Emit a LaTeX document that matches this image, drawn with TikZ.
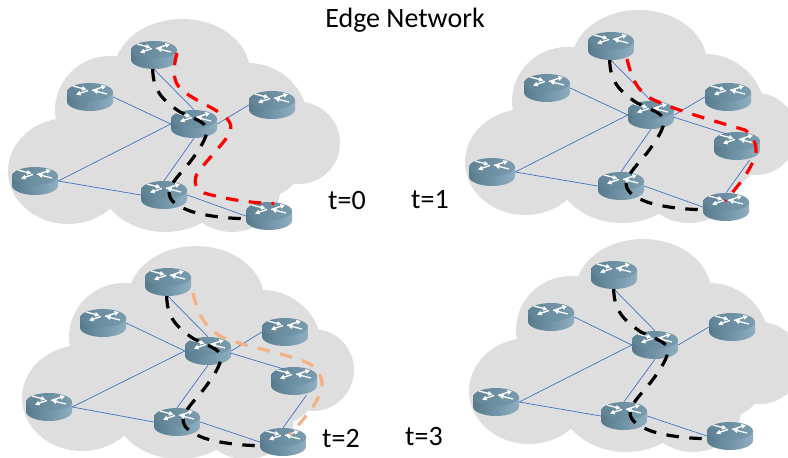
\documentclass[tikz,border=0pt]{standalone}
\usepackage{fontspec}
\setmainfont{Carlito}
\usetikzlibrary{arrows.meta,calc}
\definecolor{cloudgray}{HTML}{DEDEDE}
\definecolor{linkblue}{HTML}{4472C4}
\definecolor{pathred}{HTML}{FF0000}
\definecolor{pathorange}{HTML}{F4B183}
\definecolor{RL}{HTML}{567A8C}
\definecolor{RR}{HTML}{8FAEC2}
\definecolor{TL}{HTML}{5F8395}
\definecolor{TR}{HTML}{7A9CAF}
\tikzset{
  x=1pt,y=-1pt,
  cloudfill/.style={fill=cloudgray,draw=none},
  rnode/.style={inner sep=0pt,minimum width=46pt,minimum height=28pt,rectangle},
  link/.style={draw=linkblue,line width=0.7pt},
  flow/.style={line width=3.2pt,dash pattern=on 12.5pt off 10.5pt},
  lbl/.style={font=\fontsize{28}{32}\selectfont,text=black,inner sep=0pt},
  rarrow/.style={draw=white,line width=1.3pt,-{Triangle[length=4.5pt,width=4.5pt]}},
  router/.pic={
    \shade[left color=RL,right color=RR,draw=none]
      (-23,-5) -- (-23,4.5) .. controls (-23,9.75) and (-12.7,14) .. (0,14)
      .. controls (12.7,14) and (23,9.75) .. (23,4.5) -- (23,-5) -- cycle;
    \shade[left color=TL,right color=TR,draw=none]
      (0,-5) ellipse[x radius=23,y radius=9];
    \draw[rarrow] (-17,-11) -- (-3.5,-7.5);
    \draw[rarrow] (2,-6.5) -- (16,-11);
    \draw[rarrow] (-2,-6.5) -- (-14,-2.5);
    \draw[rarrow] (17,-3) -- (3,-6.5);
  }
}
\newcommand{\cloudat}[2]{
  \begin{scope}[shift={(#1,#2)}]
    \fill[cloudfill] (182,72) ellipse[x radius=68,y radius=53];
    \fill[cloudfill] (110,110) ellipse[x radius=55,y radius=54];
    \fill[cloudfill] (68,171) ellipse[x radius=60,y radius=53];
    \fill[cloudfill] (248,122) ellipse[x radius=60,y radius=59];
    \fill[cloudfill] (299,143) circle[radius=41];
    \fill[cloudfill] (165,175) ellipse[x radius=68,y radius=57];
    \fill[cloudfill] (232,190) ellipse[x radius=48,y radius=42];
    \fill[cloudfill] (252,168) ellipse[x radius=48,y radius=32];
    \fill[cloudfill] (170,130) ellipse[x radius=100,y radius=60];
  \end{scope}
}
\newcommand{\blackroute}[2]{
  \draw[black,flow,shift={(#1,#2)}]
    (152.7,69) .. controls (153,90) and (162,100) .. (180,112)
    .. controls (195,119) and (206,122) .. (207,130)
    .. controls (207,138) and (199,150) .. (190,162)
    .. controls (180,174) and (170,184) .. (169,192)
    .. controls (169,201) and (177,206) .. (190,211)
    .. controls (205,216) and (230,219) .. (249,218.5);
}
\begin{document}
\begin{tikzpicture}
\useasboundingbox (0,0) rectangle (788,458);
\begin{scope}
\clip (0,0) rectangle (788,458);
\cloudat{0}{0}
\cloudat{457}{-9}
\cloudat{14}{227}
\cloudat{461}{220}
\end{scope}

\node[lbl] (title) at (405,20) {Edge Network};
\node[lbl] (t0) at (347,201) {t=0};
\node[lbl] (t1) at (430,200) {t=1};
\node[lbl] (t2) at (341,439) {t=2};
\node[lbl] (t3) at (424,437) {t=3};

% panel 0
\node[rnode] (a1) at (154,55) {};
\node[rnode] (a2) at (90,97) {};
\node[rnode] (a3) at (194,124) {};
\node[rnode] (a4) at (272,105) {};
\node[rnode] (a5) at (35,181) {};
\node[rnode] (a6) at (164,195) {};
\node[rnode] (a7) at (269,216) {};
% panel 1
\node[rnode] (b1) at (611,46) {};
\node[rnode] (b2) at (547,88) {};
\node[rnode] (b3) at (651,115) {};
\node[rnode] (b4) at (728,97) {};
\node[rnode] (b5) at (492,172) {};
\node[rnode] (b6) at (621,186) {};
\node[rnode] (b7) at (726,207) {};
\node[rnode] (b8) at (737,146) {};
% panel 2
\node[rnode] (c1) at (168,282) {};
\node[rnode] (c2) at (103,323) {};
\node[rnode] (c3) at (208,351) {};
\node[rnode] (c4) at (285,332) {};
\node[rnode] (c5) at (49,407) {};
\node[rnode] (c6) at (177,422) {};
\node[rnode] (c7) at (283,442) {};
\node[rnode] (c8) at (294,381) {};
% panel 3
\node[rnode] (d1) at (614,275) {};
\node[rnode] (d2) at (551,317) {};
\node[rnode] (d3) at (655,345) {};
\node[rnode] (d4) at (732,327) {};
\node[rnode] (d5) at (496,402) {};
\node[rnode] (d6) at (624,416) {};
\node[rnode] (d7) at (730,436) {};

\foreach \p in {a,b,c,d}{
  \draw[link] (\p1.south) -- (\p3.north);
  \draw[link] (\p2.east) -- (\p3.west);
  \draw[link] (\p4.west) -- (\p3.east);
  \draw[link] (\p5.east) -- (\p3.west);
  \draw[link] (\p5.east) -- (\p6.west);
  \draw[link] (\p3.south) -- (\p6.north);
  \draw[link] (\p6.east) -- (\p7.west);
}
\foreach \p in {b,c}{
  \draw[link] ($(\p8.south)+(12.5,0)$) -- (\p7.north);
}
\foreach \p in {a,b,c,d}{
  \foreach \i in {1,...,7}{ \pic at (\p\i) {router}; }
}
\pic at (b8) {router};
\pic at (c8) {router};
\foreach \p in {b,c}{
  \draw[link] ($(\p3.east)+(-1,2)$) -- ($(\p8.north)+(-11,2)$);
}

\blackroute{0}{0}
\blackroute{457}{-9}
\blackroute{14}{227}
\blackroute{461}{220}

% red route panel 0
\draw[pathred,flow] (177,53) .. controls (173,68) and (172,82) .. (182,90)
  .. controls (195,101) and (215,108) .. (224,116)
  .. controls (232,122) and (233,130) .. (228,136)
  .. controls (218,150) and (205,162) .. (197,174)
  .. controls (193,182) and (196,190) .. (204,193)
  .. controls (225,199) and (250,203) .. (274,203.5);
% red route panel 1
\draw[pathred,flow] (627,59) .. controls (631,75) and (636,92) .. (654,100)
  .. controls (680,112) and (725,124) .. (745,130)
  .. controls (752,135) and (757,145) .. (756,152)
  .. controls (752,170) and (738,186) .. (725,201);
% orange route panel 2
\draw[pathorange,flow] (193,293) .. controls (196,305) and (200,325) .. (222,337)
  .. controls (245,347) and (290,354) .. (310,364)
  .. controls (318,369) and (323,378) .. (322,387)
  .. controls (318,405) and (302,420) .. (290,435);
\end{tikzpicture}
\end{document}
